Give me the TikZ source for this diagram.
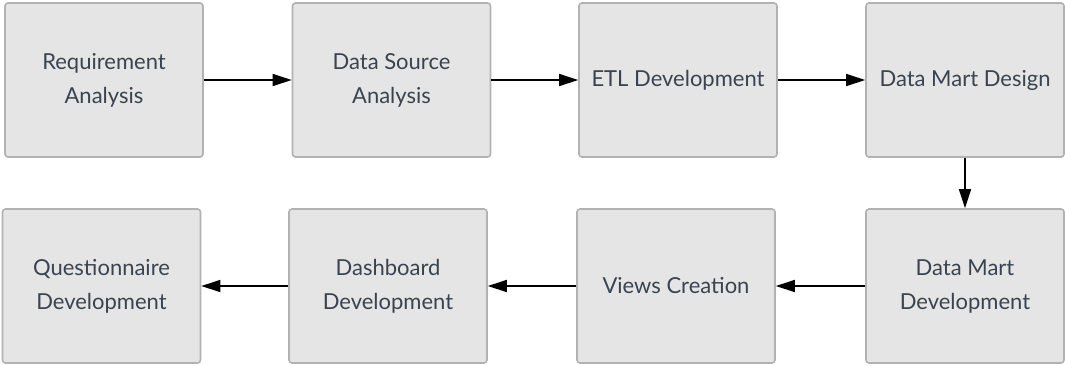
\documentclass[tikz,border=0pt]{standalone}
\usepackage{fontspec}
\setmainfont{Lato}
\usetikzlibrary{arrows.meta}
\definecolor{boxfill}{HTML}{E5E5E5}
\definecolor{boxline}{HTML}{B2B2B2}
\definecolor{boxtext}{HTML}{3A4350}
\begin{document}
\begin{tikzpicture}[
  x=1pt, y=1pt,
  stagesty/.style={draw=boxline, fill=boxfill, line width=1.6pt, rounded corners=3pt,
    minimum width=198pt, minimum height=154pt, inner sep=0pt, align=center,
    text=boxtext, font=\fontsize{22}{34}\selectfont},
  arrow/.style={-{Triangle[length=19pt,width=12pt]}, line width=1.5pt, black}]

\useasboundingbox (0,0) rectangle (1065,-365);

% first row
\node[stagesty] (req)   at (104,-80)   {Requirement\\Analysis};
\node[stagesty] (dsa)   at (391.5,-80) {Data Source\\Analysis};
\node[stagesty] (etl)   at (678,-80)   {ETL Development};
\node[stagesty] (dmdes) at (965,-80)   {Data Mart Design};

% second row
\node[stagesty] (quest) at (101.5,-286) {Questionnaire\\Development};
\node[stagesty] (dash)  at (388,-286)   {Dashboard\\Development};
\node[stagesty] (views) at (676,-286)   {Views Creation};
\node[stagesty] (dmdev) at (965,-286)   {Data Mart\\Development};

\draw[arrow] (req.east) -- (dsa.west);
\draw[arrow] (dsa.east) -- (etl.west);
\draw[arrow] (etl.east) -- (dmdes.west);
\draw[arrow] (dmdes.south) -- (dmdev.north);
\draw[arrow] (dmdev.west) -- (views.east);
\draw[arrow] (views.west) -- (dash.east);
\draw[arrow] (dash.west) -- (quest.east);

\end{tikzpicture}
\end{document}
